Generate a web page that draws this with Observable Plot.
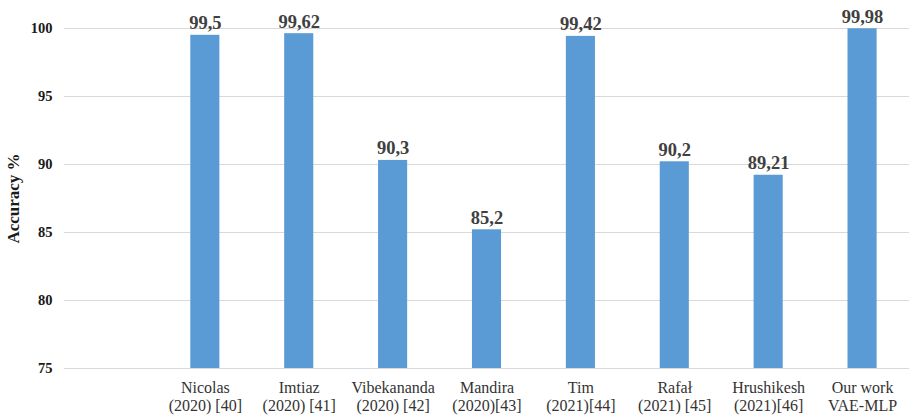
<!DOCTYPE html>
<html>
<head>
<meta charset="utf-8">
<script src="https://cdn.jsdelivr.net/npm/d3@7"></script>
<script src="https://cdn.jsdelivr.net/npm/@observablehq/plot@0.6"></script>
<style>
  html, body { margin: 0; padding: 0; background: #fff; }
  #chart svg { display: block; }
</style>
</head>
<body>
<div id="chart"></div>
<script>
// Accuracy of published approaches compared with our VAE-MLP model
const authors = ["Nicolas", "Imtiaz", "Vibekananda", "Mandira", "Tim", "Rafał", "Hrushikesh", "Our work"];
const refs = ["(2020) [40]", "(2020) [41]", "(2020) [42]", "(2020)[43]", "(2021)[44]", "(2021) [45]", "(2021)[46]", "VAE-MLP"];
const accuracy = [99.5, 99.62, 90.3, 85.2, 99.42, 90.2, 89.21, 99.98];
const yTicks = [75, 80, 85, 90, 95, 100];

const labels = authors.map((a, i) => `${a}\n${refs[i]}`);
const rows = labels.map((label, i) => ({label, value: accuracy[i]}));
const fmt = v => String(v).replace(".", ",");
const serif = "'Liberation Serif', 'Times New Roman', serif";

const chart = Plot.plot({
  width: 909,
  height: 418,
  marginLeft: 64,
  marginRight: 0,
  marginTop: 28,
  marginBottom: 50,
  style: {fontFamily: serif, background: "#fff"},
  // first slot is left empty, as in the original layout
  x: {domain: ["", ...labels], paddingInner: 0.69, paddingOuter: 0.345, round: false},
  y: {domain: [75, 100]},
  marks: [
    Plot.ruleY(yTicks, {stroke: "#d9d9d9", strokeWidth: 1}),
    Plot.barY(rows, {x: "label", y1: 75, y2: "value", fill: "#5b9bd5"}),
    Plot.text(rows, {
      x: "label", y: "value", text: d => fmt(d.value),
      lineAnchor: "bottom", dy: -6, fontSize: 18.5, fontWeight: "bold", fill: "#404040"
    }),
    Plot.axisY({
      ticks: yTicks, tickSize: 0, tickPadding: 12, label: null,
      fontSize: 14.5, fontWeight: "bold", fill: "#1a1a1a"
    }),
    Plot.axisX({
      tickSize: 0, tickPadding: 12, label: null,
      fontSize: 16, lineHeight: 1.12, fill: "#333"
    }),
    Plot.text(["Accuracy %"], {
      frameAnchor: "left", textAnchor: "middle", dx: -51, rotate: -90,
      fontSize: 17, fontWeight: "bold", fill: "#1a1a1a"
    })
  ]
});

document.getElementById("chart").appendChild(chart);
</script>
</body>
</html>
